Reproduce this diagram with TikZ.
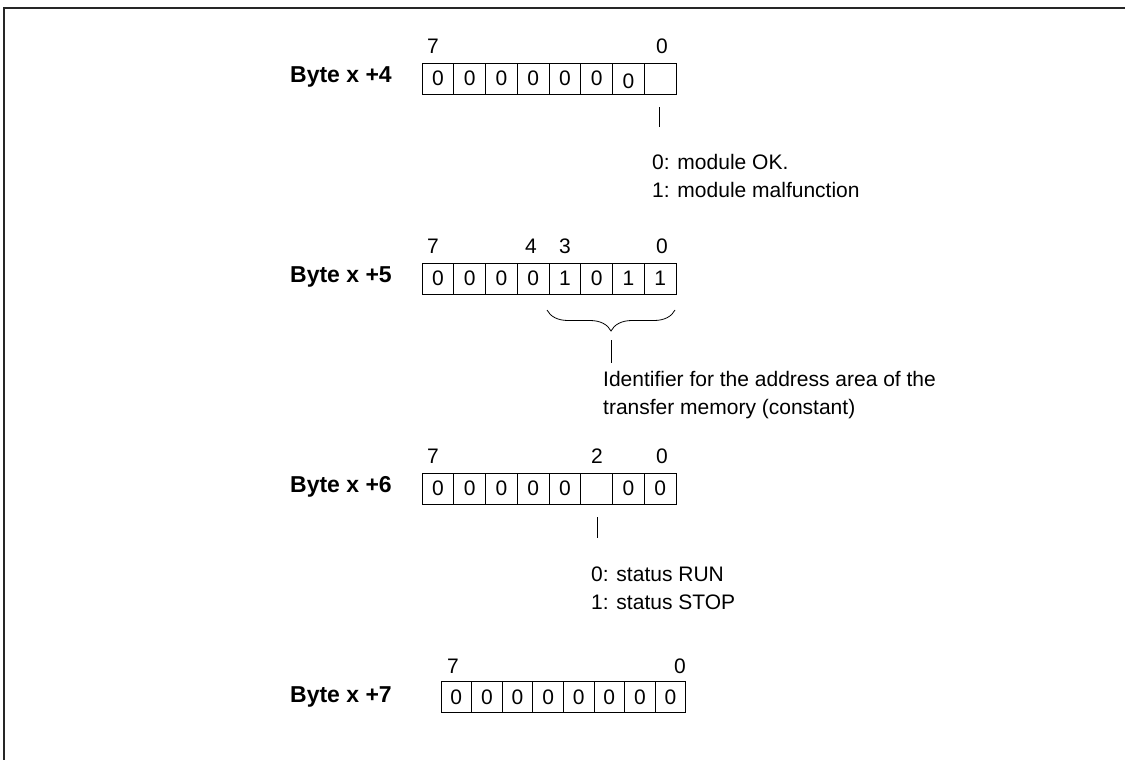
\documentclass[tikz,border=0pt]{standalone}
\usepackage{fontspec}
\setmainfont{Liberation Sans}
\usetikzlibrary{decorations.pathreplacing}

\begin{document}
\begin{tikzpicture}[
  x=1pt, y=-1pt,
  font=\fontsize{21}{28}\selectfont,
  cell/.style={rectangle, draw=black, line width=0.8pt, minimum width=31.75pt,
               minimum height=31pt, inner sep=0pt},
  bytelabel/.style={font=\fontsize{23}{28}\selectfont\bfseries, anchor=east, inner sep=0pt},
  bitnum/.style={inner sep=0pt},
  note/.style={anchor=west, align=left, inner sep=0pt},
  tick/.style={draw=black, line width=0.8pt}
]
\useasboundingbox (0,0) rectangle (1125,760);
\draw[line width=1.2pt, black!85] (4,760) -- (4,8) -- (1125,8);

% Byte x +4
\node[bytelabel] (lab4) at (392,77) {Byte x +4};
\foreach \d [count=\i] in {0,0,0,0,0,0,\raisebox{-3pt}[\height][\depth]{0},{}}
  \node[cell] (c4\i) at ({422+31.75*(\i-0.5)},78.5) {\d};
\node[bitnum] (n4h) at (433,46) {7};
\node[bitnum] (n4l) at (662,46) {0};
\coordinate (t4a) at (659,107);
\coordinate (t4b) at (659,127);
\draw[tick] (t4a) -- (t4b);
\node[note] (txt4) at (652,176) {0: module OK.\\1: module malfunction};

% Byte x +5
\node[bytelabel] (lab5) at (392,277) {Byte x +5};
\foreach \d [count=\i] in {0,0,0,0,1,0,1,1}
  \node[cell] (c5\i) at ({422+31.75*(\i-0.5)},278.5) {\d};
\node[bitnum] (n5h) at (433,246) {7};
\node[bitnum] (n5a) at (531,246) {4};
\node[bitnum] (n5b) at (565,246) {3};
\node[bitnum] (n5l) at (662,246) {0};
\coordinate (br5r) at (675,310);
\coordinate (br5l) at (547,310);
\draw[decorate, decoration={brace, amplitude=21pt}, line width=0.8pt] (br5r) -- (br5l);
\coordinate (t5a) at (611,340);
\coordinate (t5b) at (611,363);
\draw[tick] (t5a) -- (t5b);
\node[note] (txt5) at (603,395) {Identifier for the address area of the\\transfer memory (constant)};

% Byte x +6
\node[bytelabel] (lab6) at (392,487) {Byte x +6};
\foreach \d [count=\i] in {0,0,0,0,0,{},0,0}
  \node[cell] (c6\i) at ({422+31.75*(\i-0.5)},488.5) {\d};
\node[bitnum] (n6h) at (433,456) {7};
\node[bitnum] (n6a) at (597,456) {2};
\node[bitnum] (n6l) at (662,456) {0};
\coordinate (t6a) at (597,517);
\coordinate (t6b) at (597,538);
\draw[tick] (t6a) -- (t6b);
\node[note] (txt6) at (591,588) {0: status RUN\\1: status STOP};

% Byte x +7
\node[bytelabel] (lab7) at (392,697) {Byte x +7};
\foreach \d [count=\i] in {0,0,0,0,0,0,0,0}
  \node[cell, minimum width=30.6pt] (c7\i) at ({441+30.6*(\i-0.5)},697) {\d};
\node[bitnum] (n7h) at (453,666) {7};
\node[bitnum] (n7l) at (680,666) {0};
\end{tikzpicture}
\end{document}
